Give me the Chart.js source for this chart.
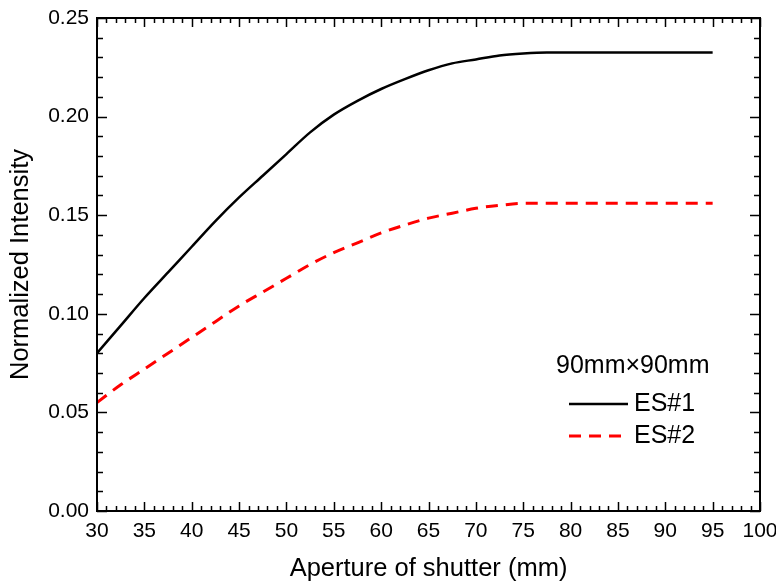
<!DOCTYPE html>
<html>
<head>
<meta charset="utf-8">
<script src="https://cdn.jsdelivr.net/npm/chart.js@4"></script>
<style>
  html, body { margin: 0; padding: 0; background: #fff; }
  #wrap { width: 776px; height: 584px; }
</style>
</head>
<body>
<div id="wrap"><canvas id="myChart" width="776" height="584"></canvas></div>
<script>
// aperture values (mm)
const aperture = [30, 32.5, 35, 37.5, 40, 42.5, 45, 47.5, 50, 52.5, 55, 57.5, 60, 62.5, 65, 67.5, 70, 72.5, 75, 77.5, 80, 85, 90, 95];
// normalized intensity
const es1 = [0.080, 0.094, 0.108, 0.121, 0.134, 0.147, 0.159, 0.170, 0.181, 0.192, 0.201, 0.208, 0.214, 0.219, 0.2235, 0.227, 0.229, 0.231, 0.232, 0.2325, 0.2325, 0.2325, 0.2325, 0.2325];
const es2 = [0.055, 0.064, 0.072, 0.080, 0.088, 0.096, 0.104, 0.111, 0.118, 0.125, 0.131, 0.136, 0.141, 0.145, 0.1485, 0.151, 0.1535, 0.155, 0.156, 0.156, 0.156, 0.156, 0.156, 0.156];
const seriesNames = ['ES#1', 'ES#2'];
const legendTitle = '90mm\u00d790mm';
const xTitle = 'Aperture of shutter (mm)';
const yTitle = 'Normalized Intensity';

const fontFam = 'Arial, "Liberation Sans", sans-serif';

// box, inward ticks (major + minor) and the legend
const framePlugin = {
  id: 'frame',
  afterDatasetsDraw(chart) {
    const ctx = chart.ctx;
    const a = chart.chartArea;
    const xs = chart.scales.x, ys = chart.scales.y;
    ctx.save();
    ctx.strokeStyle = '#000';
    ctx.lineWidth = 2;
    ctx.strokeRect(a.left, a.top, a.right - a.left, a.bottom - a.top);

    ctx.lineWidth = 1.5;
    ctx.beginPath();
    for (let v = 30; v <= 100; v++) {
      const px = Math.round(xs.getPixelForValue(v)) + 0.5;
      const len = (v % 5 === 0) ? 9 : 5;
      ctx.moveTo(px, a.bottom); ctx.lineTo(px, a.bottom - len);
      ctx.moveTo(px, a.top); ctx.lineTo(px, a.top + len);
    }
    for (let i = 0; i <= 25; i++) {
      const py = Math.round(ys.getPixelForValue(i / 100)) + 0.5;
      const len = (i % 5 === 0) ? 10 : 6;
      ctx.moveTo(a.left, py); ctx.lineTo(a.left + len, py);
      ctx.moveTo(a.right, py); ctx.lineTo(a.right - len, py);
    }
    ctx.stroke();

    // legend
    ctx.fillStyle = '#000';
    ctx.textBaseline = 'middle';
    ctx.textAlign = 'left';
    ctx.font = '25px ' + fontFam;
    ctx.fillText(legendTitle, 556, 366);
    chart.data.datasets.forEach(function(ds, i) {
      const y = 404 + i * 32;
      ctx.strokeStyle = ds.borderColor;
      ctx.lineWidth = ds.borderWidth;
      ctx.setLineDash(ds.borderDash || []);
      ctx.beginPath();
      ctx.moveTo(569, y); ctx.lineTo(628, y);
      ctx.stroke();
      ctx.setLineDash([]);
      ctx.fillText(ds.label, 634, y);
    });
    ctx.restore();
  }
};

var ctx = document.getElementById('myChart');
new Chart(ctx, {
  type: 'line',
  data: {
    labels: aperture,
    datasets: [{
      label: seriesNames[0],
      data: aperture.map((x, i) => ({x: x, y: es1[i]})),
      borderColor: '#000000',
      borderWidth: 2.5,
      pointRadius: 0,
      cubicInterpolationMode: 'monotone'
    }, {
      label: seriesNames[1],
      data: aperture.map((x, i) => ({x: x, y: es2[i]})),
      borderColor: '#ff0000',
      borderWidth: 3,
      borderDash: [12, 8],
      pointRadius: 0,
      cubicInterpolationMode: 'monotone'
    }]
  },
  options: {
    responsive: false,
    animation: false,
    layout: { padding: { top: 18, right: 16, left: 0, bottom: 0 } },
    plugins: { legend: { display: false }, tooltip: { enabled: false } },
    scales: {
      x: {
        type: 'linear',
        min: 30, max: 100,
        grid: { display: false },
        border: { display: false },
        ticks: { stepSize: 5, color: '#000', font: { size: 21, family: fontFam }, padding: 0, maxRotation: 0 },
        title: { display: true, text: xTitle, color: '#000', font: { size: 25.5, family: fontFam }, padding: 0 },
        afterFit: function(s) { s.height = 73; s.paddingLeft = 0; s.paddingRight = 0; }
      },
      y: {
        min: 0, max: 0.25,
        grid: { display: false },
        border: { display: false },
        ticks: { stepSize: 0.05, color: '#000', font: { size: 21, family: fontFam }, padding: 0,
          callback: function(v) { return v.toFixed(2); } },
        title: { display: true, text: yTitle, color: '#000', font: { size: 25.5, family: fontFam }, padding: { top: 6, bottom: 0 } },
        afterFit: function(s) { s.width = 97; s.paddingTop = 0; s.paddingBottom = 0; }
      }
    }
  },
  plugins: [framePlugin]
});
</script>
</body>
</html>
